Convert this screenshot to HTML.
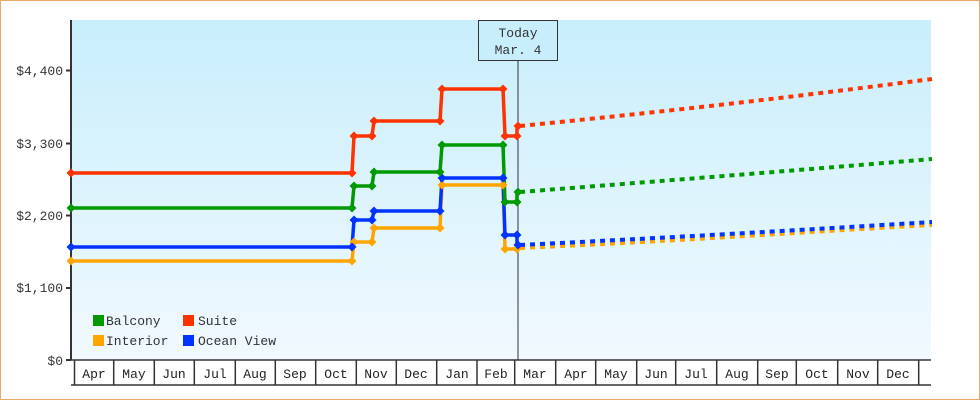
<!DOCTYPE html>
<html><head><style>
body{margin:0;background:#fff}
svg{display:block;font-family:"Liberation Mono","DejaVu Sans Mono",monospace}
</style></head><body>
<svg width="980" height="400" viewBox="0 0 980 400">
<defs>
<linearGradient id="bg" x1="0" y1="0" x2="0" y2="1">
<stop offset="0" stop-color="#c8eefc"/><stop offset="1" stop-color="#f1f9fe"/>
</linearGradient>
<path id="m" d="M0-4.5L4.5 0 0 4.5-4.5 0Z"/>
</defs>
<rect x="0.5" y="0.5" width="979" height="399" fill="#fff" stroke="#e8a868"/>
<rect x="71" y="20" width="860" height="340" fill="url(#bg)"/>
<g stroke="#333" stroke-width="2">
<line x1="71" y1="20" x2="71" y2="360"/>
<line x1="71" y1="385" x2="931" y2="385" stroke-width="1.5"/>
<line x1="71" y1="360" x2="931" y2="360" stroke-width="1.5"/>
<line x1="66" y1="70.5" x2="71" y2="70.5"/><line x1="66" y1="143.5" x2="71" y2="143.5"/>
<line x1="66" y1="215.5" x2="71" y2="215.5"/><line x1="66" y1="288" x2="71" y2="288"/><line x1="66" y1="360" x2="71" y2="360"/>
</g>
<g stroke="#333" stroke-width="1.5">
<line x1="74.5" y1="360" x2="74.5" y2="385"/><line x1="113.7" y1="360" x2="113.7" y2="385"/><line x1="154.3" y1="360" x2="154.3" y2="385"/><line x1="194.3" y1="360" x2="194.3" y2="385"/><line x1="235.3" y1="360" x2="235.3" y2="385"/><line x1="275.3" y1="360" x2="275.3" y2="385"/><line x1="315.7" y1="360" x2="315.7" y2="385"/><line x1="356.3" y1="360" x2="356.3" y2="385"/><line x1="396.3" y1="360" x2="396.3" y2="385"/><line x1="436.7" y1="360" x2="436.7" y2="385"/><line x1="477" y1="360" x2="477" y2="385"/><line x1="514.7" y1="360" x2="514.7" y2="385"/><line x1="555.7" y1="360" x2="555.7" y2="385"/><line x1="595.7" y1="360" x2="595.7" y2="385"/><line x1="636.7" y1="360" x2="636.7" y2="385"/><line x1="675.7" y1="360" x2="675.7" y2="385"/><line x1="716.7" y1="360" x2="716.7" y2="385"/><line x1="757.7" y1="360" x2="757.7" y2="385"/><line x1="796.3" y1="360" x2="796.3" y2="385"/><line x1="837.7" y1="360" x2="837.7" y2="385"/><line x1="877.7" y1="360" x2="877.7" y2="385"/><line x1="918.7" y1="360" x2="918.7" y2="385"/>
</g>
<g font-size="13" fill="#333" text-anchor="end">
<text x="63" y="75">$4,400</text><text x="63" y="148">$3,300</text><text x="63" y="220">$2,200</text><text x="63" y="292">$1,100</text><text x="63" y="365">$0</text>
</g>
<g font-size="13" fill="#222" text-anchor="middle">
<text x="94" y="378">Apr</text><text x="134" y="378">May</text><text x="174" y="378">Jun</text><text x="215" y="378">Jul</text><text x="255" y="378">Aug</text><text x="295" y="378">Sep</text><text x="336" y="378">Oct</text><text x="376" y="378">Nov</text><text x="416" y="378">Dec</text><text x="457" y="378">Jan</text><text x="496" y="378">Feb</text><text x="535" y="378">Mar</text><text x="576" y="378">Apr</text><text x="616" y="378">May</text><text x="656" y="378">Jun</text><text x="696" y="378">Jul</text><text x="737" y="378">Aug</text><text x="777" y="378">Sep</text><text x="817" y="378">Oct</text><text x="858" y="378">Nov</text><text x="898" y="378">Dec</text>
</g>
<line x1="518" y1="60" x2="518" y2="360" stroke="#333" stroke-width="1"/>
<rect x="478.5" y="20.5" width="79" height="40" fill="#c8eefc" stroke="#333"/>
<text x="518" y="37" font-size="13" fill="#333" text-anchor="middle">Today</text>
<text x="518" y="54" font-size="13" fill="#333" text-anchor="middle">Mar. 4</text>
<g fill="none" stroke-width="4" stroke-dasharray="5,5">
<path d="M520 248 C700 240 800 232 932 225" stroke="#ffa500"/>
<path d="M520 245 C700 236 800 230 932 222" stroke="#0033ff"/>
<path d="M520 192 C700 178 800 170 932 159" stroke="#009900"/>
<path d="M520 126 C700 108 800 96 932 79" stroke="#ff3300"/>
</g>
<g fill="none" stroke-width="3.5">
<path d="M71 261H352L354 242H372L374 228H440L442 185H503L505 249H517V248" stroke="#ffa500"/>
<path d="M71 247H352L354 220H372L374 211H440L442 178H503L505 235H517V245" stroke="#0033ff"/>
<path d="M71 208H352L354 186H372L374 172H440L442 145H503L505 202H517V192" stroke="#009900"/>
<path d="M71 173H352L354 136H372L374 121H440L442 89H503L505 136H517V126" stroke="#ff3300"/>
</g>
<g fill="#ffa500">
<use href="#m" x="71" y="261"/><use href="#m" x="352" y="261"/><use href="#m" x="354" y="242"/><use href="#m" x="372" y="242"/><use href="#m" x="374" y="228"/><use href="#m" x="440" y="228"/><use href="#m" x="442" y="185"/><use href="#m" x="503" y="185"/><use href="#m" x="505" y="249"/><use href="#m" x="517" y="249"/>
</g>
<g fill="#0033ff">
<use href="#m" x="71" y="247"/><use href="#m" x="352" y="247"/><use href="#m" x="354" y="220"/><use href="#m" x="372" y="220"/><use href="#m" x="374" y="211"/><use href="#m" x="440" y="211"/><use href="#m" x="442" y="178"/><use href="#m" x="503" y="178"/><use href="#m" x="505" y="235"/><use href="#m" x="517" y="235"/><use href="#m" x="518" y="245"/>
</g>
<g fill="#009900">
<use href="#m" x="71" y="208"/><use href="#m" x="352" y="208"/><use href="#m" x="354" y="186"/><use href="#m" x="372" y="186"/><use href="#m" x="374" y="172"/><use href="#m" x="440" y="172"/><use href="#m" x="442" y="145"/><use href="#m" x="503" y="145"/><use href="#m" x="505" y="202"/><use href="#m" x="517" y="202"/><use href="#m" x="518" y="192"/>
</g>
<g fill="#ff3300">
<use href="#m" x="71" y="173"/><use href="#m" x="352" y="173"/><use href="#m" x="354" y="136"/><use href="#m" x="372" y="136"/><use href="#m" x="374" y="121"/><use href="#m" x="440" y="121"/><use href="#m" x="442" y="89"/><use href="#m" x="503" y="89"/><use href="#m" x="505" y="136"/><use href="#m" x="517" y="136"/><use href="#m" x="518" y="126"/>
</g>
<g font-size="13" fill="#333">
<rect x="93" y="315" width="11" height="11" fill="#009900"/><text x="106" y="325">Balcony</text>
<rect x="183" y="315" width="11" height="11" fill="#ff3300"/><text x="198" y="325">Suite</text>
<rect x="93" y="335" width="11" height="11" fill="#ffa500"/><text x="106" y="345">Interior</text>
<rect x="183" y="335" width="11" height="11" fill="#0033ff"/><text x="198" y="345">Ocean View</text>
</g>
</svg>
</body></html>
